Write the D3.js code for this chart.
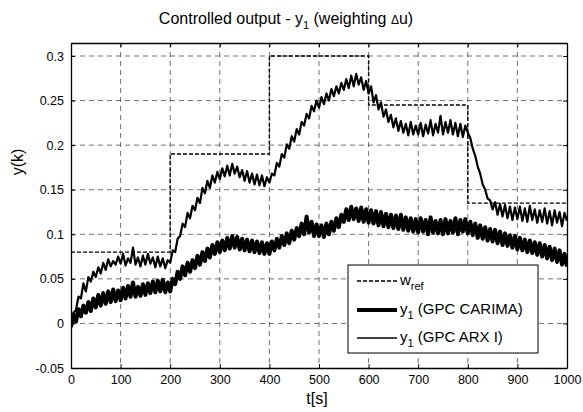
<!DOCTYPE html>
<html>
<head>
<meta charset="utf-8">
<script src="https://cdn.jsdelivr.net/npm/d3@7"></script>
<style>
  body { margin: 0; background: #fff; }
  text { font-family: Arial, "Liberation Sans", sans-serif; fill: #000; }
</style>
</head>
<body>
<svg id="chart" width="583" height="412"></svg>
<script>
// time axis, sampled every 5 s
const step = 5;
const xTicks = [0, 100, 200, 300, 400, 500, 600, 700, 800, 900, 1000];
const yTicks = [-0.05, 0, 0.05, 0.1, 0.15, 0.2, 0.25, 0.3];

// reference trajectory (step changes)
const refTimes = [0, 200, 200, 400, 400, 600, 600, 800, 800, 1000];
const refValues = [0.08, 0.08, 0.19, 0.19, 0.3, 0.3, 0.245, 0.245, 0.135, 0.135];

// y1 with GPC ARX I (thin)
const arxValues = [
  0.002, 0.012, 0.015, 0.030, 0.028, 0.045, 0.036, 0.052, 0.047, 0.058,
  0.052, 0.063, 0.056, 0.068, 0.060, 0.072, 0.064, 0.070, 0.066, 0.075,
  0.067, 0.078, 0.065, 0.073, 0.068, 0.085, 0.066, 0.074, 0.064, 0.076,
  0.066, 0.078, 0.067, 0.074, 0.063, 0.075, 0.064, 0.073, 0.062, 0.071,
  0.068, 0.082, 0.080, 0.095, 0.098, 0.112, 0.108, 0.124, 0.118, 0.132,
  0.127, 0.141, 0.135, 0.152, 0.146, 0.160, 0.152, 0.166, 0.158, 0.170,
  0.162, 0.174, 0.165, 0.177, 0.166, 0.179, 0.168, 0.176, 0.164, 0.172,
  0.160, 0.171, 0.158, 0.168, 0.156, 0.167, 0.155, 0.166, 0.154, 0.164,
  0.158, 0.168, 0.166, 0.180, 0.176, 0.190, 0.186, 0.201, 0.196, 0.210,
  0.204, 0.218, 0.212, 0.226, 0.222, 0.235, 0.230, 0.244, 0.238, 0.250,
  0.242, 0.254, 0.246, 0.258, 0.250, 0.263, 0.255, 0.266, 0.258, 0.270,
  0.262, 0.274, 0.264, 0.278, 0.266, 0.280, 0.268, 0.276, 0.262, 0.272,
  0.258, 0.266, 0.248, 0.256, 0.240, 0.248, 0.232, 0.240, 0.226, 0.234,
  0.220, 0.230, 0.216, 0.227, 0.214, 0.224, 0.211, 0.226, 0.212, 0.222,
  0.212, 0.225, 0.210, 0.223, 0.213, 0.228, 0.211, 0.224, 0.214, 0.233,
  0.212, 0.226, 0.214, 0.228, 0.212, 0.225, 0.210, 0.224, 0.209, 0.222,
  0.214, 0.208, 0.196, 0.188, 0.176, 0.168, 0.156, 0.150, 0.140, 0.138,
  0.128, 0.136, 0.122, 0.134, 0.120, 0.133, 0.118, 0.131, 0.116, 0.130,
  0.117, 0.131, 0.115, 0.129, 0.114, 0.132, 0.116, 0.128, 0.113, 0.127,
  0.114, 0.129, 0.112, 0.126, 0.110, 0.127, 0.113, 0.125, 0.109, 0.124,
  0.115
];

// y1 with GPC CARIMA (thick)
const carimaValues = [
  -0.004, 0.010, 0.002, 0.016, 0.008, 0.020, 0.012, 0.024, 0.014, 0.028,
  0.018, 0.032, 0.020, 0.034, 0.022, 0.036, 0.024, 0.038, 0.025, 0.037,
  0.026, 0.040, 0.028, 0.042, 0.030, 0.046, 0.030, 0.041, 0.031, 0.044,
  0.032, 0.045, 0.034, 0.047, 0.035, 0.048, 0.036, 0.049, 0.035, 0.046,
  0.036, 0.050, 0.044, 0.058, 0.050, 0.064, 0.054, 0.068, 0.058, 0.071,
  0.062, 0.076, 0.066, 0.080, 0.070, 0.084, 0.074, 0.088, 0.078, 0.091,
  0.080, 0.093, 0.082, 0.096, 0.084, 0.098, 0.085, 0.097, 0.083, 0.095,
  0.082, 0.094, 0.081, 0.093, 0.080, 0.092, 0.079, 0.091, 0.078, 0.090,
  0.078, 0.092, 0.082, 0.095, 0.085, 0.098, 0.088, 0.101, 0.090, 0.104,
  0.094, 0.107, 0.098, 0.112, 0.100, 0.120, 0.102, 0.114, 0.098, 0.111,
  0.098, 0.110, 0.097, 0.112, 0.100, 0.114, 0.104, 0.118, 0.108, 0.122,
  0.114, 0.128, 0.116, 0.131, 0.117, 0.129, 0.115, 0.130, 0.114, 0.128,
  0.113, 0.127, 0.112, 0.126, 0.110, 0.125, 0.109, 0.123, 0.108, 0.122,
  0.107, 0.121, 0.106, 0.122, 0.105, 0.119, 0.104, 0.118, 0.103, 0.117,
  0.102, 0.118, 0.103, 0.116, 0.100, 0.119, 0.102, 0.115, 0.101, 0.116,
  0.100, 0.117, 0.101, 0.115, 0.102, 0.118, 0.100, 0.116, 0.103, 0.117,
  0.101, 0.114, 0.099, 0.112, 0.096, 0.110, 0.095, 0.108, 0.093, 0.106,
  0.092, 0.105, 0.090, 0.103, 0.088, 0.101, 0.087, 0.099, 0.085, 0.098,
  0.083, 0.096, 0.082, 0.094, 0.080, 0.093, 0.079, 0.091, 0.077, 0.090,
  0.075, 0.088, 0.073, 0.086, 0.071, 0.084, 0.069, 0.082, 0.066, 0.078,
  0.064
];

const legendLabels = [
  { main: 'w', sub: 'ref', rest: '' },
  { main: 'y', sub: '1', rest: ' (GPC CARIMA)' },
  { main: 'y', sub: '1', rest: ' (GPC ARX I)' }
];

const svg = d3.select('#chart');
const pLeft = 71, pRight = 567, pTop = 43, pBottom = 368;

const x = d3.scaleLinear().domain([0, 1000]).range([pLeft, pRight]);
const y = d3.scaleLinear().domain([-0.05, 0.3146]).range([pBottom, pTop]);

// grid
const grid = svg.append('g').attr('stroke', '#333').attr('stroke-width', 0.7)
  .attr('stroke-dasharray', '5,4');
xTicks.slice(1, -1).forEach(t => {
  grid.append('line').attr('x1', x(t)).attr('x2', x(t)).attr('y1', pTop).attr('y2', pBottom);
});
yTicks.slice(1).forEach(v => {
  grid.append('line').attr('x1', pLeft).attr('x2', pRight).attr('y1', y(v)).attr('y2', y(v));
});

// data lines
const line = d3.line().x((d, i) => x(i * step)).y(d => y(d));
const refLine = d3.line().x((d, i) => x(refTimes[i])).y(d => y(d));

svg.append('clipPath').attr('id', 'clip')
  .append('rect').attr('x', pLeft).attr('y', pTop).attr('width', pRight - pLeft).attr('height', pBottom - pTop);
const plot = svg.append('g').attr('clip-path', 'url(#clip)');

plot.append('path').attr('d', refLine(refValues))
  .attr('fill', 'none').attr('stroke', '#000').attr('stroke-width', 1.4)
  .attr('stroke-dasharray', '4,2');
plot.append('path').attr('d', line(carimaValues))
  .attr('fill', 'none').attr('stroke', '#000').attr('stroke-width', 4)
  .attr('stroke-linejoin', 'round');
plot.append('path').attr('d', line(arxValues))
  .attr('fill', 'none').attr('stroke', '#000').attr('stroke-width', 2.2)
  .attr('stroke-linejoin', 'round');

// axes box with inner ticks on all sides
const axB = d3.axisBottom(x).tickValues(xTicks).tickSizeInner(-4).tickSizeOuter(0).tickPadding(7)
  .tickFormat(d3.format('d'));
const axT = d3.axisTop(x).tickValues(xTicks).tickSizeInner(-4).tickSizeOuter(0).tickFormat('');
const axL = d3.axisLeft(y).tickValues(yTicks).tickSizeInner(-4).tickSizeOuter(0).tickPadding(7)
  .tickFormat(d => String(+d.toFixed(2)));
const axR = d3.axisRight(y).tickValues(yTicks).tickSizeInner(-4).tickSizeOuter(0).tickFormat('');

[[axB, `translate(0,${pBottom})`], [axT, `translate(0,${pTop})`],
 [axL, `translate(${pLeft},0)`], [axR, `translate(${pRight},0)`]].forEach(([ax, tr]) => {
  const g = svg.append('g').attr('transform', tr).call(ax);
  g.select('.domain').attr('stroke', '#000').attr('stroke-width', 1.3);
  g.selectAll('.tick line').attr('stroke', '#000').attr('stroke-width', 1);
  g.selectAll('.tick text').attr('font-size', 12.5).attr('font-family', 'Arial, "Liberation Sans", sans-serif');
});

// legend
const lg = svg.append('g');
lg.append('rect').attr('x', 348).attr('y', 265).attr('width', 190).attr('height', 88)
  .attr('fill', '#fff').attr('stroke', '#000').attr('stroke-width', 1);
const rows = [281, 310, 338];
const styles = [
  { w: 1.4, dash: '4,2' },
  { w: 4, dash: null },
  { w: 1.3, dash: null }
];
legendLabels.forEach((lab, i) => {
  lg.append('line').attr('x1', 357).attr('x2', 397).attr('y1', rows[i]).attr('y2', rows[i])
    .attr('stroke', '#000').attr('stroke-width', styles[i].w)
    .attr('stroke-dasharray', styles[i].dash);
  const t = lg.append('text').attr('x', 400).attr('y', rows[i] + 4).attr('font-size', 15);
  t.append('tspan').text(lab.main);
  t.append('tspan').attr('font-size', 11).attr('dy', 5).text(lab.sub);
  t.append('tspan').attr('dy', -5).text(lab.rest);
});

// title
const title = svg.append('text').attr('x', 286).attr('y', 24)
  .attr('text-anchor', 'middle').attr('font-size', 16);
title.append('tspan').text('Controlled output - y');
title.append('tspan').attr('font-size', 11).attr('dy', 5).text('1');
title.append('tspan').attr('dy', -5).text(' (weighting ');
title.append('tspan').attr('font-size', 12).text('Δ');
title.append('tspan').text('u)');

// axis labels
svg.append('text').attr('x', 317).attr('y', 404).attr('text-anchor', 'middle')
  .attr('font-size', 16).text('t[s]');
svg.append('text').attr('transform', 'translate(23,162) rotate(-90)')
  .attr('text-anchor', 'middle').attr('font-size', 16).text('y(k)');
</script>
</body>
</html>
